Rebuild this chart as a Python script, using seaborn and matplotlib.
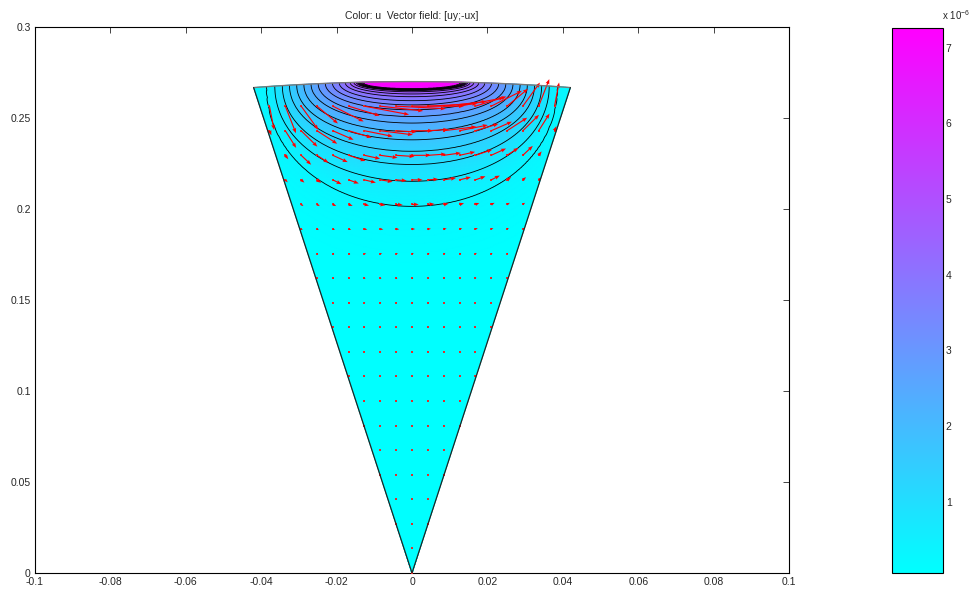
import numpy as np
import matplotlib
matplotlib.use("Agg")
import matplotlib.pyplot as plt
import matplotlib.tri as mtri
import seaborn as sns

# ---------------- data ----------------
TITLE = "Color: u  Vector field: [uy;-ux]"
R_TOP = 0.27              # radius of the top arc (cone seen from the side)
HALF_ANGLE_DEG = 8.95     # half opening angle of the cone
U_MIN = 0.06              # colour range (x 1e-6)
U_MAX = 7.26

# contour levels (x 1e-6), depth of each level below the top on the axis,
# and half width where the level meets the top surface
LEVEL_VALUE = [0.0, 0.345, 0.69, 1.035, 1.38, 1.725, 2.07, 2.415, 2.76, 3.105,
               3.45, 3.795, 4.14, 4.485, 4.83, 5.175, 5.52, 5.865, 6.21, 6.555,
               6.9, 7.26]
LEVEL_DEPTH = [0.125, 0.0685, 0.0548, 0.0456, 0.0383, 0.0320, 0.0275, 0.0228,
               0.0192, 0.0155, 0.0128, 0.0105, 0.0083, 0.0068, 0.0056, 0.0049,
               0.0047, 0.0045, 0.0043, 0.0041, 0.0039, 0.0022]
LEVEL_HALF_WIDTH = [0.056, 0.0385, 0.0364, 0.0344, 0.0325, 0.0306, 0.0287,
                    0.0268, 0.0249, 0.0230, 0.0211, 0.0193, 0.0177, 0.0164,
                    0.0154, 0.0147, 0.0144, 0.0141, 0.0138, 0.0135, 0.0132,
                    0.0100]
CONTOUR_LEVELS = LEVEL_VALUE[1:21]

X_TICKS = [-0.1, -0.08, -0.06, -0.04, -0.02, 0, 0.02, 0.04, 0.06, 0.08, 0.1]
X_TICK_LABELS = ["-0.1", "-0.08", "-0.06", "-0.04", "-0.02", "0", "0.02",
                 "0.04", "0.06", "0.08", "0.1"]
Y_TICKS = [0, 0.05, 0.1, 0.15, 0.2, 0.25, 0.3]
Y_TICK_LABELS = ["0", "0.05", "0.1", "0.15", "0.2", "0.25", "0.3"]
CB_TICKS = [1, 2, 3, 4, 5, 6, 7]
CB_TICK_LABELS = ["1", "2", "3", "4", "5", "6", "7"]
CB_EXPONENT = r"x 10$^{\mathregular{-6}}$"
ARROW_X_RANGE = (-0.042, 0.042)
ARROW_Y_RANGE = (0.0, 0.27)
ARROW_GRID = 21

# ---------------- style ----------------
sns.set_style("white")
plt.rcParams["font.family"] = ["Liberation Sans", "DejaVu Sans"]
plt.rcParams["font.size"] = 7.5
plt.rcParams["mathtext.default"] = "regular"
cmap = sns.color_palette("cool", as_cmap=True)

theta0 = np.deg2rad(HALF_ANGLE_DEG)
lv = np.asarray(LEVEL_VALUE)
ld = np.asarray(LEVEL_DEPTH)
lw_ = np.asarray(LEVEL_HALF_WIDTH)


def field(x, y):
    """u built from the level shapes (semi-ellipses under the top surface)."""
    x = np.asarray(x, float)
    y = np.asarray(y, float)
    r = np.hypot(x, y)
    d = np.clip(R_TOP - r, 0, None)
    s = (x[..., None] / lw_) ** 2 + (d[..., None] / ld) ** 2
    u = np.zeros_like(d)
    u[s[..., -1] <= 1] = lv[-1]
    for k in range(len(lv) - 1):
        a = s[..., k]
        b = s[..., k + 1]
        m = (a <= 1) & (b > 1)
        t = (1 - a[m]) / (b[m] - a[m])
        u[m] = lv[k] + t * (lv[k + 1] - lv[k])
    return u


# ---------------- mesh of the cone section ----------------
depth = np.unique(np.concatenate([np.linspace(0, 0.016, 110),
                                  np.linspace(0.016, 0.13, 150),
                                  np.linspace(0.13, R_TOP - 1e-5, 60)]))
rr = R_TOP - depth
th = np.linspace(-theta0, theta0, 181)
RR, TH = np.meshgrid(rr, th, indexing="ij")
X = RR * np.sin(TH)
Y = RR * np.cos(TH)
nr, nt = X.shape
idx = np.arange(nr * nt).reshape(nr, nt)
a = idx[:-1, :-1].ravel()
b = idx[1:, :-1].ravel()
c = idx[1:, 1:].ravel()
e = idx[:-1, 1:].ravel()
tris = np.concatenate([np.stack([a, b, c], 1), np.stack([a, c, e], 1)])
tri = mtri.Triangulation(X.ravel(), Y.ravel(), tris)
U = field(X.ravel(), Y.ravel())

# ---------------- arrows ----------------
ax_ = np.linspace(*ARROW_X_RANGE, ARROW_GRID)
ay_ = np.linspace(*ARROW_Y_RANGE, ARROW_GRID)
AX, AY = np.meshgrid(ax_, ay_)
AX = AX.ravel()
AY = AY.ravel()
inside = (np.hypot(AX, AY) < R_TOP - 1e-6) & (np.abs(AX) <= AY * np.tan(theta0) + 1e-9)
AX = AX[inside]
AY = AY[inside]
eps = 2e-4
VX = (field(AX, AY + eps) - field(AX, AY - eps)) / (2 * eps)
VY = -(field(AX + eps, AY) - field(AX - eps, AY)) / (2 * eps)

# ---------------- figure ----------------
fig = plt.figure(figsize=(9.73, 5.97), dpi=100)
ax = fig.add_axes([35 / 973, 24 / 597, 754 / 973, 546 / 597])

pc = ax.tripcolor(tri, U, shading="gouraud", cmap=cmap, vmin=U_MIN, vmax=U_MAX,
                  rasterized=True)
ax.tricontour(tri, U, levels=CONTOUR_LEVELS, colors="black", linewidths=0.6)

ax.scatter(AX, AY, s=0.6, color="#e03030", marker="s", linewidths=0, zorder=4)
ax.quiver(AX, AY, VX, VY, angles="xy", scale_units="xy", scale=10500,
          color="red", width=0.0015, headwidth=3.5, headlength=4.5,
          headaxislength=4, minlength=0.5, zorder=4)

# outline of the domain
tb = np.linspace(-theta0, theta0, 200)
ax.plot(R_TOP * np.sin(tb), R_TOP * np.cos(tb), color="#777777", lw=1.0, zorder=5)
ax.plot([R_TOP * np.sin(-theta0), 0, R_TOP * np.sin(theta0)],
        [R_TOP * np.cos(theta0), 0, R_TOP * np.cos(theta0)],
        color="#222222", lw=0.9, zorder=5)

ax.set_xlim(-0.1, 0.1)
ax.set_ylim(0, 0.3)
ax.set_xticks(X_TICKS)
ax.set_xticklabels(X_TICK_LABELS)
ax.set_yticks(Y_TICKS)
ax.set_yticklabels(Y_TICK_LABELS)
ax.tick_params(direction="in", length=4, width=0.6, top=True, right=True,
               labelsize=7.5, pad=3)
for sp in ax.spines.values():
    sp.set_visible(True)
    sp.set_color("black")
    sp.set_linewidth(0.8)
ax.set_title(TITLE, fontsize=7.5, pad=6)

cax = fig.add_axes([892 / 973, 24 / 597, 51 / 973, 545 / 597])
cb = fig.colorbar(pc, cax=cax)
cb.set_ticks(CB_TICKS)
cb.set_ticklabels(CB_TICK_LABELS)
cax.tick_params(direction="in", length=4, width=0.6, left=True, right=True,
                labelsize=7.5, pad=2)
cb.outline.set_edgecolor("black")
cb.outline.set_linewidth(0.8)
fig.text(970 / 973, 1 - 20 / 597, CB_EXPONENT, fontsize=7, ha="right", va="baseline")

fig.savefig("out.png", dpi=100)
